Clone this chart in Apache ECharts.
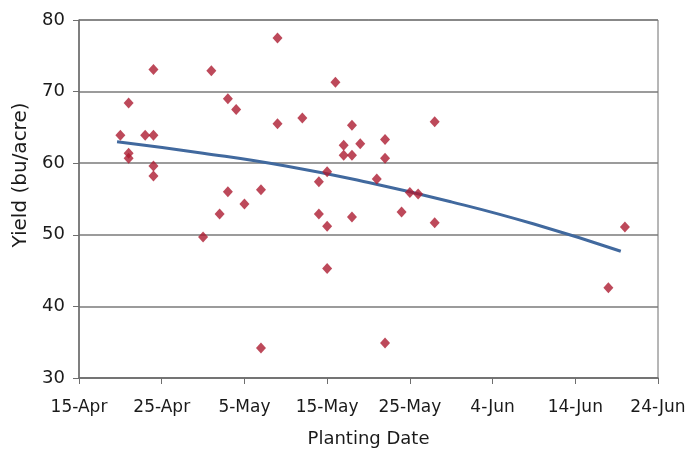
<!DOCTYPE html>
<html>
<head>
<meta charset="utf-8">
<script src="https://cdn.jsdelivr.net/npm/echarts@6/dist/echarts.min.js"></script>
<style>
  html, body { margin: 0; padding: 0; background: #fff; }
  #chart { width: 688px; height: 451px; }
</style>
</head>
<body>
<div id="chart"></div>
<script>
// planting date of each plot and its yield (bu/acre)
const plantDates = [
  "24-Apr", "1-May", "9-May", "21-Apr", "3-May", "4-May", "9-May",
  "20-Apr", "23-Apr", "24-Apr", "21-Apr", "21-Apr", "24-Apr", "24-Apr",
  "3-May", "7-May", "5-May", "2-May", "30-Apr", "7-May",
  "16-May", "12-May", "18-May", "28-May", "17-May", "19-May", "22-May",
  "17-May", "18-May", "22-May", "15-May", "14-May", "21-May", "25-May",
  "26-May", "14-May", "15-May", "18-May", "24-May", "28-May", "15-May",
  "22-May", "20-Jun", "18-Jun"
];
const yields = [
  73.1, 72.9, 77.5, 68.4, 69.0, 67.5, 65.5,
  63.9, 63.9, 63.9, 61.4, 60.7, 59.6, 58.2,
  56.0, 56.3, 54.3, 52.9, 49.7, 34.2,
  71.3, 66.3, 65.3, 65.8, 62.5, 62.7, 63.3,
  61.1, 61.1, 60.7, 58.8, 57.4, 57.8, 55.9,
  55.7, 52.9, 51.2, 52.5, 53.2, 51.7, 45.3,
  34.9, 51.1, 42.6
];

// trend line (days after 15-Apr, yield)
const trendDays = [4.6, 15, 25, 35, 45, 55, 65.5];
const trendYields = [63.0, 61.4, 59.6, 57.3, 54.6, 51.5, 47.7];

const tickLabels = ["15-Apr", "25-Apr", "5-May", "15-May", "25-May", "4-Jun", "14-Jun", "24-Jun"];

const months = { Apr: 3, May: 4, Jun: 5 };
const start = Date.UTC(2010, 3, 15);
function dayOffset(s) {
  const [d, m] = s.split("-");
  return (Date.UTC(2010, months[m], +d) - start) / 86400000;
}

const scatterData = plantDates.map((d, i) => [dayOffset(d), yields[i]]);
const trendData = trendDays.map((d, i) => [d, trendYields[i]]);

const font = "DejaVu Sans";
const chart = echarts.init(document.getElementById("chart"));
chart.setOption({
  animation: false,
  grid: {
    left: 79, right: 30, top: 20, bottom: 73,
    outerBoundsMode: "none",
    show: true, borderColor: "#6e6e6e", borderWidth: 1
  },
  xAxis: {
    type: "value",
    min: 0, max: 70, interval: 10,
    name: "Planting Date",
    nameLocation: "middle",
    nameGap: 52,
    nameTextStyle: { fontFamily: font, fontSize: 18, color: "#1a1a1a" },
    axisLine: { lineStyle: { color: "#6e6e6e", width: 1.5 } },
    axisTick: { show: true, length: 6, lineStyle: { color: "#6e6e6e" } },
    axisLabel: {
      fontFamily: font, fontSize: 17, color: "#1a1a1a", margin: 21,
      formatter: (v) => tickLabels[Math.round(v / 10)]
    },
    splitLine: { show: false }
  },
  yAxis: {
    type: "value",
    min: 30, max: 80, interval: 10,
    name: "Yield (bu/acre)",
    nameLocation: "middle",
    nameGap: 48,
    nameTextStyle: { fontFamily: font, fontSize: 20, color: "#1a1a1a", padding: [0, 0, 0, 48] },
    axisLine: { show: true, lineStyle: { color: "#6e6e6e", width: 1.5 } },
    axisTick: { show: true, length: 6, lineStyle: { color: "#6e6e6e" } },
    axisLabel: { fontFamily: font, fontSize: 18, color: "#1a1a1a", margin: 14 },
    splitLine: { show: true, lineStyle: { color: "#7a7a7a", width: 1.5 } }
  },
  series: [
    {
      type: "line",
      data: trendData,
      smooth: true,
      showSymbol: false,
      lineStyle: { color: "#41699e", width: 3 },
      z: 2
    },
    {
      type: "scatter",
      data: scatterData,
      symbol: "diamond",
      symbolSize: [10, 11],
      itemStyle: { color: "#ad1c31" },
      z: 3
    }
  ]
});
</script>
</body>
</html>
